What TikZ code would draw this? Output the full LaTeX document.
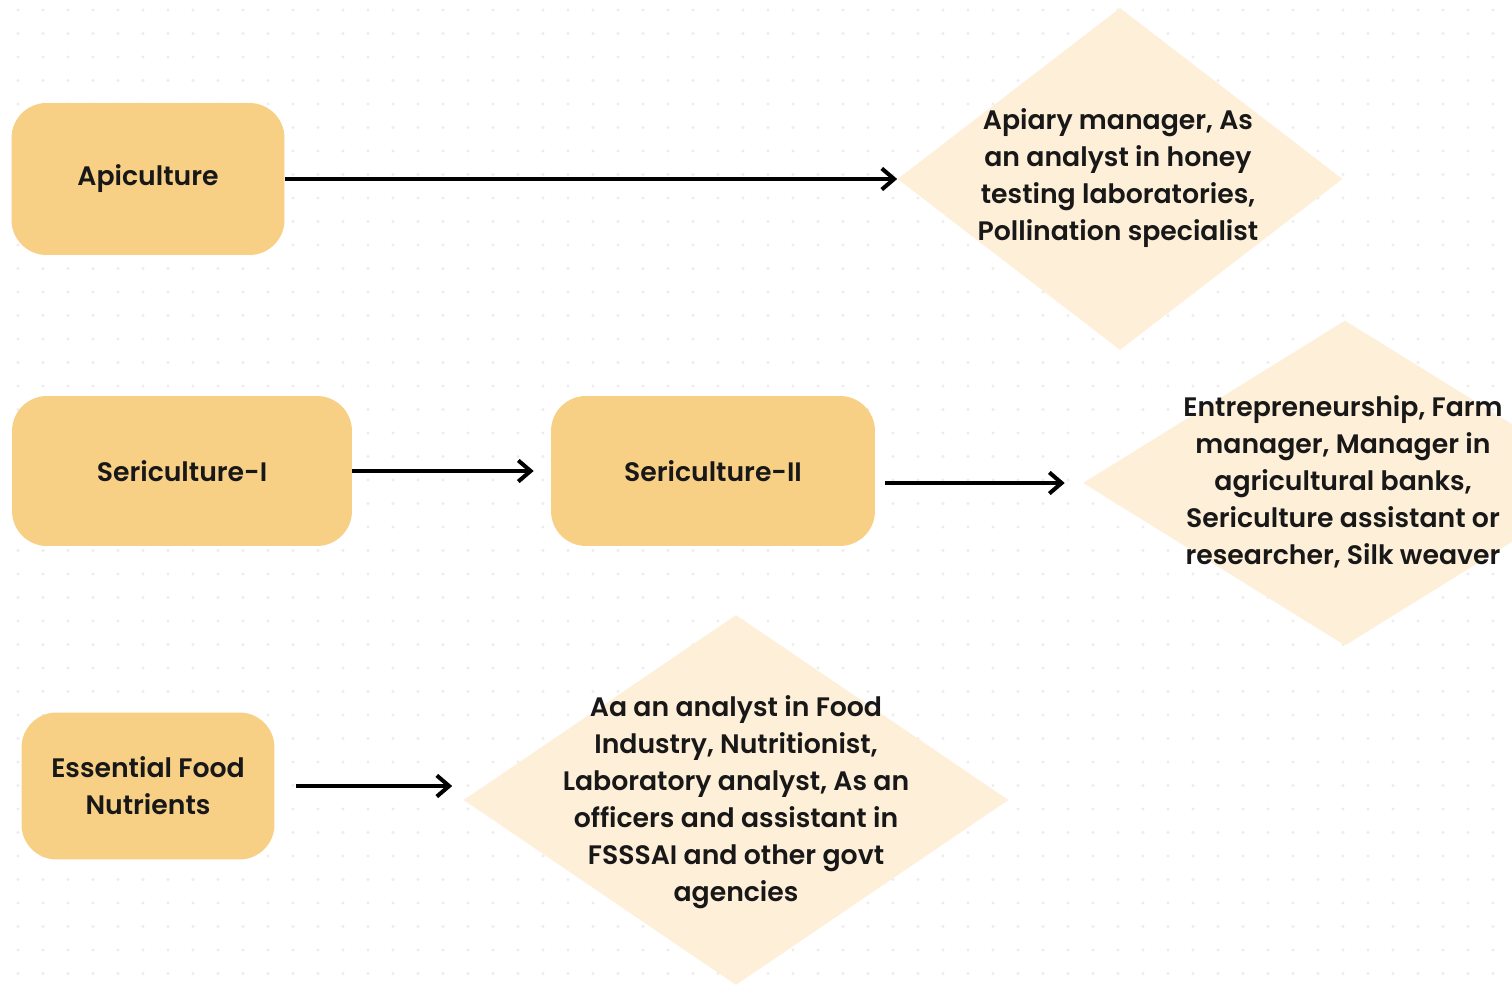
\documentclass[tikz,border=0pt]{standalone}
\usepackage{fontspec}
\setmainfont{Poppins}[BoldFont=* SemiBold]
\usetikzlibrary{shapes.geometric, arrows.meta, positioning}

\definecolor{boxfill}{RGB}{247,208,134}
\definecolor{jobfill}{RGB}{254,239,216}
\definecolor{griddot}{RGB}{236,236,236}
\definecolor{inkdark}{RGB}{24,24,24}

\begin{document}
\begin{tikzpicture}[
    x=0.02cm, y=-0.02cm,
    course/.style={rectangle, rounded corners=0.7cm, fill=boxfill, align=center, text=inkdark,
        font=\fontsize{15.2}{21}\selectfont\bfseries},
    career/.style={diamond, fill=jobfill, inner sep=0pt},
    jobtext/.style={align=center, text=inkdark, inner sep=0pt,
        font=\fontsize{15.2}{21}\selectfont\bfseries},
    link/.style={-{Straight Barb[length=7pt, width=12pt, line width=2.3pt]}, line width=2.4pt}
]
% Frame and dotted background
\useasboundingbox (0,0) rectangle (1512,986);
\clip (0,0) rectangle (1512,986);
\fill[white] (0,0) rectangle (1512,986);
\foreach \i in {0,...,60} {
    \foreach \j in {0,...,41} {
        \fill[griddot] (18+25*\i, 10+23.5*\j) circle (0.9pt);
    }
}
% Row 1: Apiculture
\node[course, minimum width=5.46cm, minimum height=3.04cm] (api) at (148,179) {Apiculture};
\node[career, minimum width=8.9cm, minimum height=6.84cm] (apijobs) at (1120,179) {};
\node[jobtext] (apitext) at (1118,178)
    {Apiary manager, As\\ an analyst in honey\\ testing laboratories,\\ Pollination specialist};
\draw[link] (api.east) -- (apijobs.west);
% Row 2: Sericulture
\node[course, minimum width=6.8cm, minimum height=3.0cm] (seri) at (182,471) {Sericulture-I};
\node[course, minimum width=6.48cm, minimum height=3.0cm] (serii) at (713,471) {Sericulture-II};
\node[career, minimum width=10.48cm, minimum height=6.5cm] (serijobs) at (1345,483) {};
\node[jobtext] (seritext) at (1343,482)
    {Entrepreneurship, Farm\\ manager, Manager in\\ agricultural banks,\\ Sericulture assistant or\\ researcher, Silk weaver};
\draw[link, shorten >=0.34cm] (seri.east) -- (serii.west);
\draw[link, shorten <=0.2cm, shorten >=0.36cm] (serii.east |- serijobs.west) -- (serijobs.west);
% Row 3: Essential Food Nutrients
\node[course, minimum width=5.06cm, minimum height=2.94cm] (food) at (148,786) {Essential Food\\ Nutrients};
\node[career, minimum width=10.9cm, minimum height=7.4cm] (foodjobs) at (736,800) {};
\node[jobtext] (foodtext) at (736,802)
    {Aa an analyst in Food\\ Industry, Nutritionist,\\ Laboratory analyst, As an\\ officers and assistant in\\ FSSSAI and other govt\\ agencies};
\coordinate (foodend) at (foodjobs.west |- food.east);
\draw[link, shorten <=0.42cm, shorten >=0.22cm] (food.east) -- (foodend);
\end{tikzpicture}
\end{document}
